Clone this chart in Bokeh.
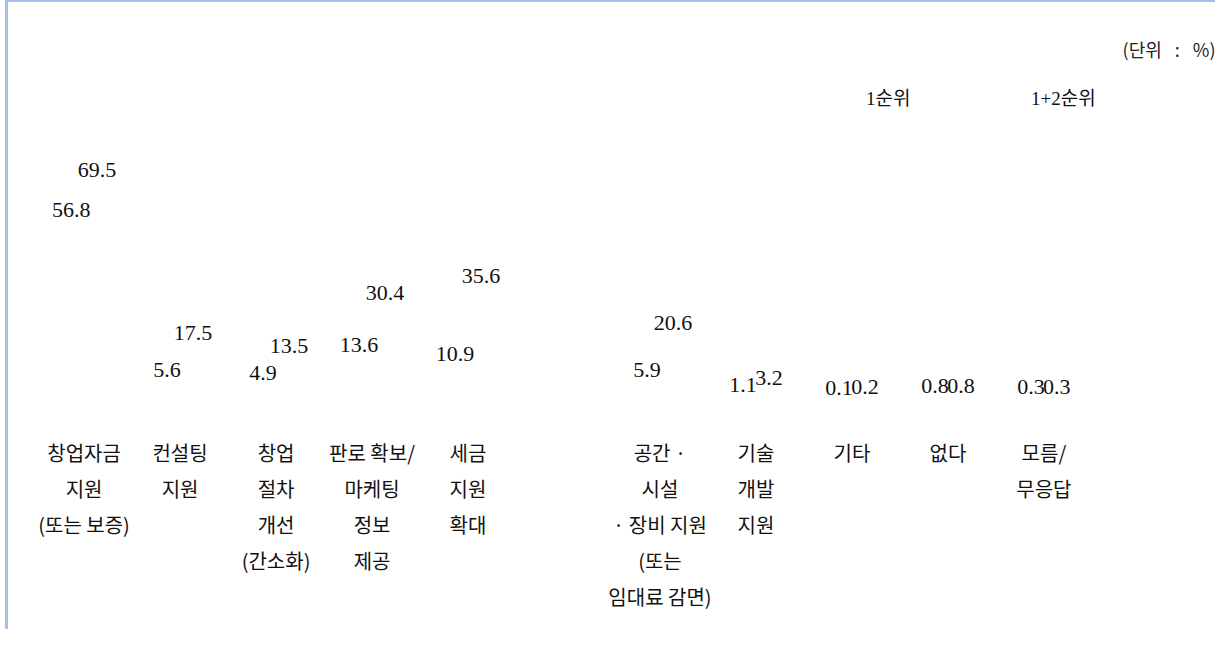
from bokeh.plotting import figure
from bokeh.models import ColumnDataSource, FactorRange, Range1d, Legend, LegendItem
from bokeh.transform import dodge
from bokeh.core.properties import value
from bokeh.embed import file_html
from bokeh.resources import INLINE

# ---- data ----
categories = [
    "창업자금\n지원\n(또는 보증)",
    "컨설팅\n지원",
    "창업\n절차\n개선\n(간소화)",
    "판로 확보/\n마케팅\n정보\n제공",
    "세금\n지원\n확대",
    "공간 ·\n시설\n· 장비 지원\n(또는\n임대료 감면)",
    "기술\n개발\n지원",
    "기타",
    "없다",
    "모름/\n무응답",
]
rank1 = [56.8, 5.6, 4.9, 13.6, 10.9, 5.9, 1.1, 0.1, 0.8, 0.3]
rank12 = [69.5, 17.5, 13.5, 30.4, 35.6, 20.6, 3.2, 0.2, 0.8, 0.3]
series_names = ["1순위", "1+2순위"]
unit_text = "(단위\u2002 :\u2002 %)"

# spacer slot seen in the original layout between 5th and 6th category
factors = categories[:5] + [" "] + categories[5:]

src = ColumnDataSource(dict(
    cat=categories,
    r1=rank1,
    r12=rank12,
    r1_txt=[f"{v:.1f}" for v in rank1],
    r12_txt=[f"{v:.1f}" for v in rank12],
))

NUM_FONT = "'Liberation Serif', 'Noto Sans CJK KR'"
KR_FONT = "'Noto Sans CJK KR'"
BORDER = "#a3c1ec"

p = figure(
    x_range=FactorRange(*factors, range_padding=0.1, range_padding_units="absolute"),
    y_range=Range1d(-10, 102.3),
    width=1210, height=629,
    min_border_left=18, min_border_right=117,
    min_border_top=64, min_border_bottom=212,
    y_axis_location=None,
    toolbar_location=None,
    output_backend="svg",
)
p.styles = {"border-top": f"2px solid {BORDER}", "border-left": f"3px solid {BORDER}",
            "margin-left": "5px"}
p.outline_line_color = None
p.xgrid.grid_line_color = None
p.ygrid.grid_line_color = None
p.background_fill_color = "white"
p.border_fill_color = "white"

# unit note as title, right-aligned beyond the frame
p.title.text = unit_text
p.title.align = "right"
p.title.offset = -114
p.title.standoff = 10
p.title.text_font = KR_FONT
p.title.text_font_size = "18px"
p.title.text_font_style = "normal"
p.title.text_color = "#222222"

# bars (transparent as in the reference)
OFF = 0.135
b1 = p.vbar(x=dodge("cat", -OFF, range=p.x_range), top="r1", width=0.22, source=src,
            fill_alpha=0, line_alpha=0)
b2 = p.vbar(x=dodge("cat", OFF, range=p.x_range), top="r12", width=0.22, source=src,
            fill_alpha=0, line_alpha=0)

# value labels
for col, off in (("r1", -OFF), ("r12", OFF)):
    p.text(x=dodge("cat", off, range=p.x_range), y=col, text=col + "_txt", source=src,
           text_align="center", text_baseline="middle", text_font=value(NUM_FONT),
           text_font_size="22px", text_color="#111111")

# x axis
ax = p.xaxis[0]
ax.axis_line_color = None
ax.major_tick_line_color = None
ax.minor_tick_line_color = None
ax.major_label_text_font = KR_FONT
ax.major_label_text_font_size = "20px"
ax.major_label_text_color = "#111111"
ax.major_label_text_line_height = 1.246
ax.major_label_standoff = 12
ax.major_label_orientation = "horizontal"

# legend (text only)
legend = Legend(
    items=[LegendItem(label=series_names[0], renderers=[b1]),
           LegendItem(label=series_names[1], renderers=[b2])],
    orientation="horizontal",
    location=(839, 309),
    glyph_width=1, glyph_height=1, label_standoff=0,
    label_width=164, label_height=20, spacing=0,
    padding=0, margin=0,
    border_line_color=None, background_fill_alpha=0,
    label_text_font=NUM_FONT,
    label_text_font_size="19px", label_text_color="#111111",
)
p.add_layout(legend, "center")

open("out.html", "w").write(file_html(p, INLINE))
